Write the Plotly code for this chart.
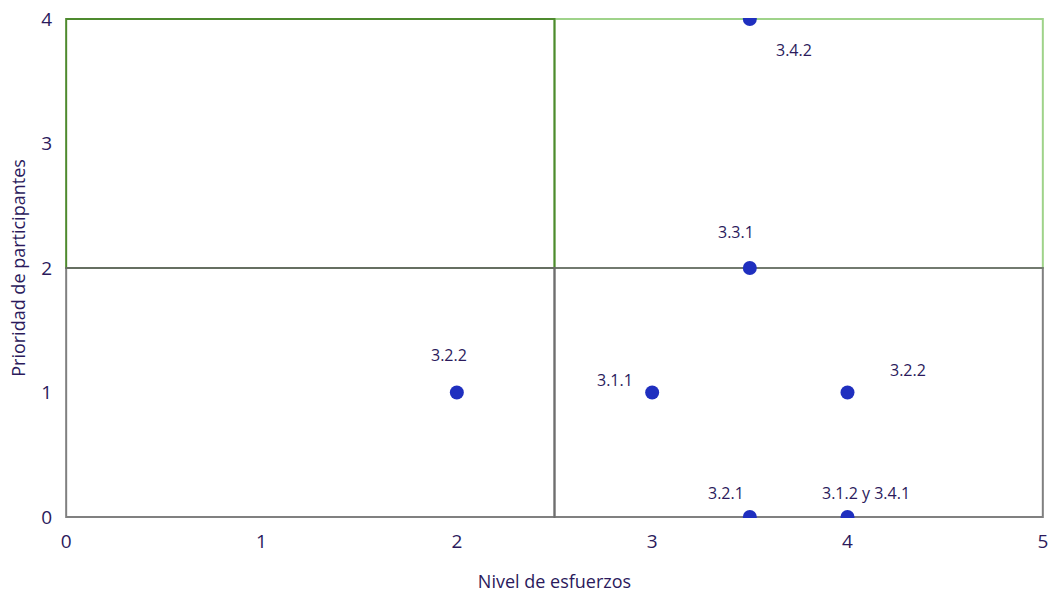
import plotly.graph_objects as go

# data
esfuerzo = [2, 3, 3.5, 3.5, 3.5, 4, 4]
prioridad = [1, 1, 2, 4, 0, 0, 1]
etiquetas = ["3.2.2", "3.1.1", "3.3.1", "3.4.2", "3.2.1", "3.1.2 y 3.4.1", "3.2.2"]

x_ticks = [0, 1, 2, 3, 4, 5]
y_ticks = [0, 1, 2, 3, 4]
corte_x = 2.5
corte_y = 2

# label offsets in px (style only)
offsets = [(-8, 38), (-37, 13), (-14, 36), (44, -31), (-24, 24), (18, 24), (60, 23)]

txt = "#2b1a5c"
fig = go.Figure()
fig.add_trace(go.Scatter(x=esfuerzo, y=prioridad, mode="markers",
                         marker=dict(size=14, color="#1f2fbf"),
                         cliponaxis=True, hoverinfo="skip", showlegend=False))

# quadrants (light green, dark green, then grey on top)
fig.add_shape(type="rect", x0=corte_x, y0=corte_y, x1=5, y1=4,
              line=dict(color="#9fd38a", width=2), layer="below")
fig.add_shape(type="rect", x0=0, y0=corte_y, x1=corte_x, y1=4,
              line=dict(color="#4e8a2e", width=2), layer="below")
fig.add_shape(type="rect", x0=0, y0=0, x1=corte_x, y1=corte_y,
              line=dict(color="#6b6b6b", width=2), opacity=0.85, layer="below")
fig.add_shape(type="rect", x0=corte_x, y0=0, x1=5, y1=corte_y,
              line=dict(color="#6b6b6b", width=2), opacity=0.85, layer="below")

for xv, yv, t, (dx, dy) in zip(esfuerzo, prioridad, etiquetas, offsets):
    fig.add_annotation(x=xv, y=yv, text=t, showarrow=False,
                       xshift=dx, yshift=dy, font=dict(size=16, color=txt))

fig.update_layout(
    width=1050, height=597,
    margin=dict(l=65, r=6, t=18, b=79),
    plot_bgcolor="white", paper_bgcolor="white",
    font=dict(family="Open Sans", size=19, color=txt),
    xaxis=dict(range=[-0.006, 5.006], tickvals=x_ticks, showgrid=False, zeroline=False,
               showline=False, ticklabelstandoff=10, automargin="bottom",
               ticklabeloverflow="allow",
               title=dict(text="Nivel de esfuerzos", font=dict(size=18), standoff=22)),
    yaxis=dict(range=[-0.008, 4.008], tickvals=y_ticks, showgrid=False, zeroline=False,
               showline=False, ticklabelstandoff=12, automargin="left",
               ticklabeloverflow="allow",
               title=dict(text="Prioridad de participantes", font=dict(size=18), standoff=10)),
)

fig.write_html("out.html", config={"displayModeBar": False},
               post_script="document.body.style.margin='0';document.body.style.overflow='hidden';")
